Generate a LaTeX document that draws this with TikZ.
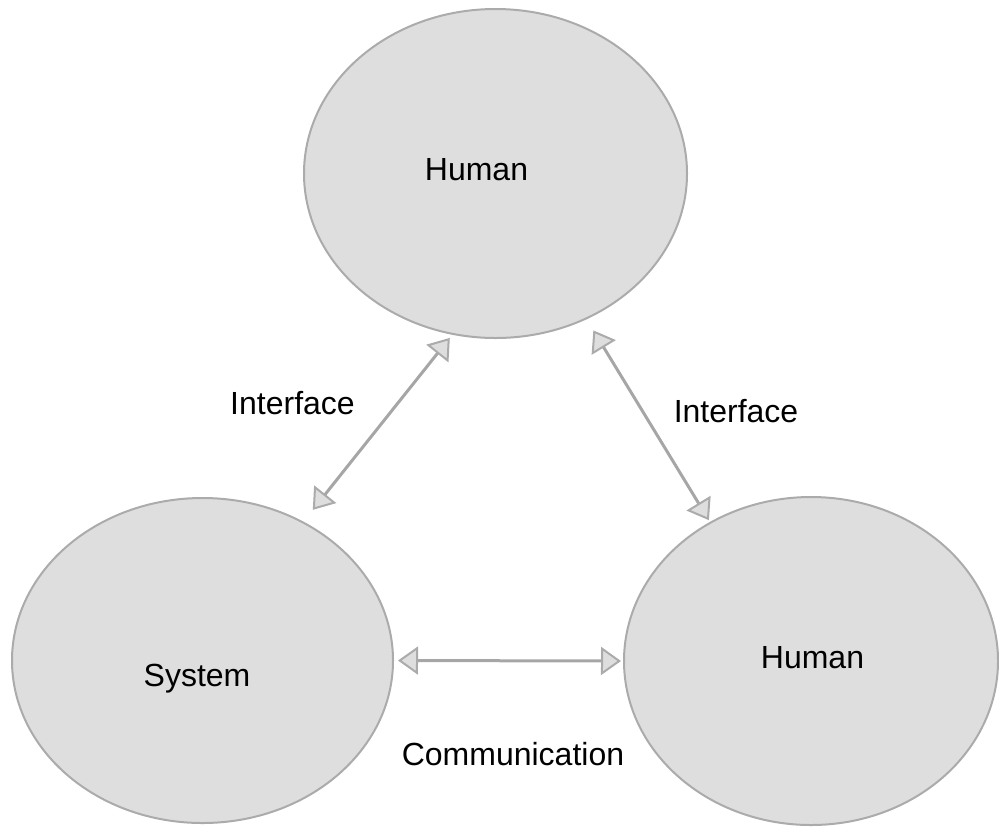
\documentclass[tikz,border=0pt]{standalone}
\usepackage{fontspec}
\setmainfont{Liberation Sans}
\usetikzlibrary{shapes.geometric, arrows.meta}
\definecolor{blobfill}{HTML}{DEDEDE}
\definecolor{blobline}{HTML}{ABABAB}
\definecolor{linkgray}{HTML}{A6A6A6}

\begin{document}
\begin{tikzpicture}
        [
          x=0.5pt, y=-0.5pt,
          blob/.style={ellipse, draw=blobline, fill=blobfill, line width=1pt, inner sep=0pt},
          word/.style={anchor=base, font=\fontsize{16}{19}\selectfont},
          link/.style={draw=linkgray, line width=1.5pt,
            {Triangle[length=10pt, width=14pt, fill=blobfill, color=blobline, line width=1pt]}-{Triangle[length=10pt, width=14pt, fill=blobfill, color=blobline, line width=1pt]}}
        ]
        \useasboundingbox (0,0) rectangle (999,826);
        % actors
        \node [blob, minimum width=191.5pt, minimum height=164.5pt] (top) at (495.5,173.5) {};
        \node [blob, minimum width=190.5pt, minimum height=162.5pt] (sys) at (202.5,660.5) {};
        \node [blob, minimum width=187pt, minimum height=164pt] (bot) at (811,661) {};
        % actor names
        \node [word] (topname) at (476.5,180) {Human};
        \node [word] (sysname) at (197,686) {System};
        \node [word] (botname) at (812.5,668) {Human};
        % links
        \draw [link, shorten <=7.5pt, shorten >=2pt] (sys.54) -- (top.-105);
        \draw [link, shorten <=6.5pt, shorten >=1pt] (top.-58.3) -- (bot.126.5);
        \draw [link, shorten <=2pt, shorten >=1pt] (sys.east) -- (bot.west);
        % link labels
        \node [word] (ifleft) at (292.5,414) {Interface};
        \node [word] (ifright) at (736,422) {Interface};
        \node [word] (comm) at (513,765) {Communication};
\end{tikzpicture}
\end{document}
